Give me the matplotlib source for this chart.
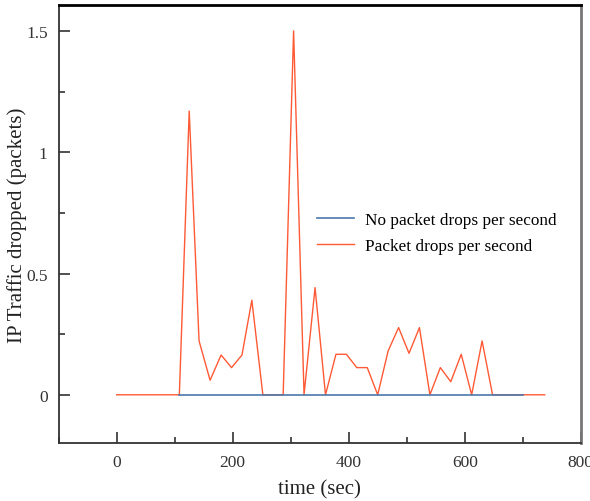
import matplotlib
matplotlib.use("Agg")
import matplotlib.pyplot as plt
from matplotlib.ticker import MultipleLocator, FuncFormatter

plt.rcParams['font.family'] = ['Liberation Serif', 'DejaVu Serif']

# datos (tiempo en segundos, paquetes descartados)
t_drops = [0, 108, 125, 142, 161, 180, 198, 216, 233, 252, 287, 305, 323, 342,
           360, 378, 396, 414, 432, 450, 468, 486, 504, 522, 540, 558, 576, 594,
           612, 630, 648, 738]
drops = [0, 0, 1.17, 0.222, 0.06, 0.164, 0.112, 0.164, 0.39, 0, 0, 1.50, 0, 0.442,
         0, 0.167, 0.167, 0.112, 0.112, 0, 0.181, 0.277, 0.171, 0.277, 0, 0.112,
         0.054, 0.167, 0, 0.222, 0, 0]

t_no_drops = [108, 700]
no_drops = [0, 0]

fig = plt.figure(figsize=(5.9, 5.02), dpi=100)
ax = fig.add_axes([58.7 / 590, 1 - 444.3 / 502, 522 / 590, 438.3 / 502])

l2, = ax.plot(t_drops, drops, color='#ff5a36', lw=1.0, label='Packet drops per second')
l1, = ax.plot(t_no_drops, no_drops, color='#4a78ac', lw=1.2, label='No packet drops per second')

ax.set_xlim(-100, 800)
ax.set_ylim(-0.2, 1.607)
ax.xaxis.set_major_locator(MultipleLocator(200))
ax.xaxis.set_minor_locator(MultipleLocator(100))
ax.yaxis.set_major_locator(MultipleLocator(0.5))
ax.yaxis.set_minor_locator(MultipleLocator(0.25))
ax.yaxis.set_major_formatter(FuncFormatter(lambda v, p: '%g' % v))

ax.tick_params(which='both', direction='in', top=False, right=False,
               color='#333333', labelcolor='#333333', labelsize=12.5, width=1.2)
ax.tick_params(which='major', length=8, pad=8)
ax.tick_params(which='minor', length=4)

ax.spines['left'].set_color('#333333')
ax.spines['bottom'].set_color('#333333')
ax.spines['left'].set_linewidth(1.3)
ax.spines['bottom'].set_linewidth(1.3)
ax.spines['top'].set_color('black')
ax.spines['top'].set_linewidth(2)
ax.spines['right'].set_color('#777777')
ax.spines['right'].set_linewidth(2)

ax.set_xlabel('time (sec)', fontsize=15, color='#222222', labelpad=6)
ax.set_ylabel('IP Traffic dropped (packets)', fontsize=15, color='#222222')
ax.yaxis.set_label_coords(-0.06, 0.5)

ax.legend(handles=[l1, l2], loc='center left', bbox_to_anchor=(0.494, 0.48),
          frameon=False, fontsize=12.4, handlelength=2.15, handletextpad=0.64,
          labelspacing=0.55, borderpad=0, borderaxespad=0)

fig.savefig('out.png', dpi=100)
